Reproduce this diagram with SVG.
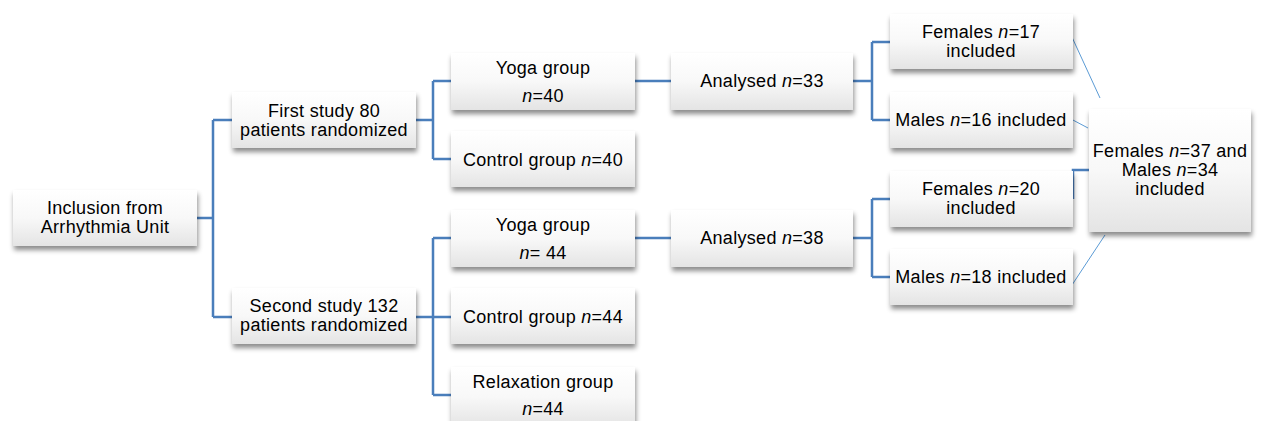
<svg xmlns="http://www.w3.org/2000/svg" width="1262" height="421" viewBox="0 0 1262 421">
<defs>
<linearGradient id="g" x1="0" y1="0" x2="0" y2="1">
<stop offset="0" stop-color="#ffffff"/>
<stop offset="0.5" stop-color="#f8f8f8"/>
<stop offset="1" stop-color="#e4e4e4"/>
</linearGradient>
<filter id="sh" x="-10%" y="-20%" width="125%" height="150%">
<feDropShadow dx="1" dy="4" stdDeviation="2.5" flood-color="#000" flood-opacity="0.45"/>
</filter>
</defs>
<style>
.box{fill:url(#g);filter:url(#sh)}
text{font-family:"Liberation Sans",Arial,sans-serif;font-size:18px;letter-spacing:0.3px;fill:#000;text-anchor:middle}
.c{fill:none;stroke:#4a7ebb;stroke-width:2.5}
.d{fill:none;stroke:#5b9bd5;stroke-width:1}
</style>
<rect width="1262" height="421" fill="#fff"/>
<g id="connectors">
<path class="c" d="M197 218H213M213 120V317M213 120H232M213 317H232"/>
<path class="c" d="M416 120H433M433 81V159M433 81H451M433 159H451"/>
<path class="c" d="M416 317H433M433 238V395M433 238H451M433 317H451M433 395H451"/>
<path class="c" d="M635 81H671M635 238H671"/>
<path class="c" d="M853 81H872M872 42V120M872 42H890M872 120H890"/>
<path class="c" d="M853 238H872M872 199V277M872 199H890M872 277H890"/>
<path class="c" d="M1073 199V170H1089"/>
<path class="d" d="M1071 35L1100 98M1071 119L1088 128M1072 285L1105 235"/>
</g>
<g id="inclusion"><rect class="box" x="13" y="190" width="184" height="56"/><text x="105" y="214">Inclusion from</text><text x="105" y="233">Arrhythmia Unit</text></g>
<g id="first-study"><rect class="box" x="232" y="92" width="184" height="56"/><text x="324" y="117">First study 80</text><text x="324" y="136">patients randomized</text></g>
<g id="second-study"><rect class="box" x="232" y="288" width="184" height="56"/><text x="324" y="312">Second study 132</text><text x="324" y="331">patients randomized</text></g>
<g id="yoga1"><rect class="box" x="451" y="53" width="184" height="57"/><text x="543" y="74">Yoga group</text><text x="543" y="102"><tspan font-style="italic">n</tspan>=40</text></g>
<g id="control1"><rect class="box" x="451" y="131" width="184" height="56"/><text x="543" y="166">Control group <tspan font-style="italic">n</tspan>=40</text></g>
<g id="yoga2"><rect class="box" x="451" y="210" width="184" height="57"/><text x="543" y="231">Yoga group</text><text x="543" y="259"><tspan font-style="italic">n</tspan>= 44</text></g>
<g id="control2"><rect class="box" x="451" y="288" width="184" height="56"/><text x="543" y="323">Control group <tspan font-style="italic">n</tspan>=44</text></g>
<g id="relaxation"><rect class="box" x="451" y="367" width="184" height="60"/><text x="543" y="388">Relaxation group</text><text x="543" y="415"><tspan font-style="italic">n</tspan>=44</text></g>
<g id="analysed1"><rect class="box" x="671" y="53" width="182" height="57"/><text x="762" y="87">Analysed <tspan font-style="italic">n</tspan>=33</text></g>
<g id="analysed2"><rect class="box" x="671" y="210" width="182" height="57"/><text x="762" y="244">Analysed <tspan font-style="italic">n</tspan>=38</text></g>
<g id="females17"><rect class="box" x="890" y="14" width="183" height="55"/><text x="981" y="38">Females <tspan font-style="italic">n</tspan>=17</text><text x="981" y="57">included</text></g>
<g id="males16"><rect class="box" x="890" y="92" width="183" height="56"/><text x="981" y="126">Males <tspan font-style="italic">n</tspan>=16 included</text></g>
<g id="females20"><rect class="box" x="890" y="171" width="183" height="56"/><text x="981" y="195">Females <tspan font-style="italic">n</tspan>=20</text><text x="981" y="214">included</text></g>
<g id="males18"><rect class="box" x="890" y="249" width="183" height="56"/><text x="981" y="283">Males <tspan font-style="italic">n</tspan>=18 included</text></g>
<g id="total"><rect class="box" x="1089" y="109" width="162" height="123"/><text x="1170" y="157">Females <tspan font-style="italic">n</tspan>=37 and</text><text x="1170" y="176">Males <tspan font-style="italic">n</tspan>=34</text><text x="1170" y="195">included</text></g>
</svg>
